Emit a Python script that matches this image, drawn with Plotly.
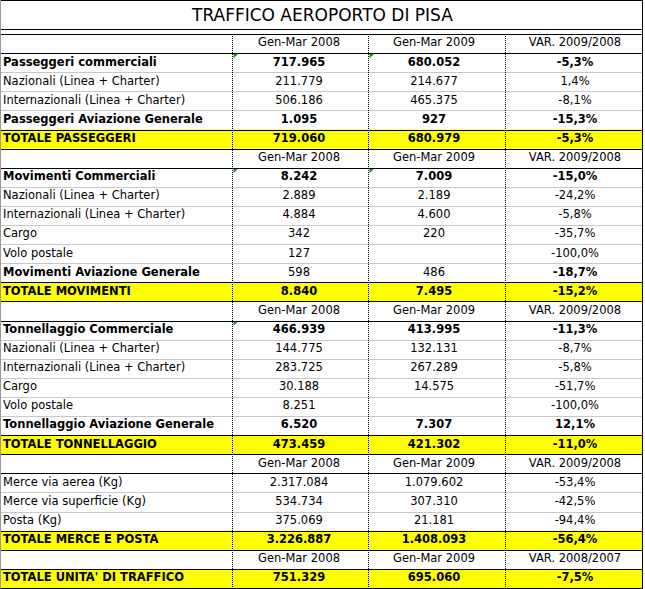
import plotly.graph_objects as go

title = "TRAFFICO AEROPORTO DI PISA"

labels = [
    "", "Passeggeri commerciali", "Nazionali (Linea + Charter)", "Internazionali (Linea + Charter)",
    "Passeggeri Aviazione Generale", "TOTALE PASSEGGERI",
    "", "Movimenti Commerciali", "Nazionali (Linea + Charter)", "Internazionali (Linea + Charter)",
    "Cargo", "Volo postale", "Movimenti Aviazione Generale", "TOTALE MOVIMENTI",
    "", "Tonnellaggio Commerciale", "Nazionali (Linea + Charter)", "Internazionali (Linea + Charter)",
    "Cargo", "Volo postale", "Tonnellaggio Aviazione Generale", "TOTALE TONNELLAGGIO",
    "", "Merce via aerea (Kg)", "Merce via superficie (Kg)", "Posta (Kg)", "TOTALE MERCE E POSTA",
    "", "TOTALE UNITA' DI TRAFFICO",
]
col_2008 = [
    "Gen-Mar 2008", "717.965", "211.779", "506.186", "1.095", "719.060",
    "Gen-Mar 2008", "8.242", "2.889", "4.884", "342", "127", "598", "8.840",
    "Gen-Mar 2008", "466.939", "144.775", "283.725", "30.188", "8.251", "6.520", "473.459",
    "Gen-Mar 2008", "2.317.084", "534.734", "375.069", "3.226.887",
    "Gen-Mar 2008", "751.329",
]
col_2009 = [
    "Gen-Mar 2009", "680.052", "214.677", "465.375", "927", "680.979",
    "Gen-Mar 2009", "7.009", "2.189", "4.600", "220", "", "486", "7.495",
    "Gen-Mar 2009", "413.995", "132.131", "267.289", "14.575", "", "7.307", "421.302",
    "Gen-Mar 2009", "1.079.602", "307.310", "21.181", "1.408.093",
    "Gen-Mar 2009", "695.060",
]
col_var = [
    "VAR. 2009/2008", "-5,3%", "1,4%", "-8,1%", "-15,3%", "-5,3%",
    "VAR. 2009/2008", "-15,0%", "-24,2%", "-5,8%", "-35,7%", "-100,0%", "-18,7%", "-15,2%",
    "VAR. 2009/2008", "-11,3%", "-8,7%", "-5,8%", "-51,7%", "-100,0%", "12,1%", "-11,0%",
    "VAR. 2009/2008", "-53,4%", "-42,5%", "-94,4%", "-56,4%",
    "VAR. 2008/2007", "-7,5%",
]
# row type: h = header, b = bold, n = normal, t = yellow total
row_kind = "hbnnbt" + "hbnnnnbt" + "hbnnnnbt" + "hnnnt" + "ht"
# bold flags per cell (label, 2008, 2009, var)
bold_cells = [
    "0000", "1111", "0000", "0000", "1111", "1111",
    "0000", "1111", "0000", "0000", "0000", "0000", "1001", "1111",
    "0000", "1111", "0000", "0000", "0000", "0000", "1111", "1111",
    "0000", "0000", "0000", "0000", "1111",
    "0000", "1111",
]
# cells with the green Excel marker in the corner
flagged = [(1, 1), (1, 2), (7, 1), (7, 2), (15, 1)]

W, H = 645, 589
TOP = 34
ROW_H = (588 - TOP) / len(labels)
EDGES = [0.5, 232.5, 368.5, 505.5, 642.5]
CENTERS = [3, 299, 434, 575]
FONT = "DejaVu Sans"

row_mid = [TOP + ROW_H * (i + 0.5) for i in range(len(labels))]
row_top = [TOP + ROW_H * i for i in range(len(labels) + 1)]

fig = go.Figure()

shapes = []
# yellow total rows
for i, k in enumerate(row_kind):
    if k == "t":
        shapes.append(dict(type="rect", x0=EDGES[0], x1=EDGES[4], y0=row_top[i], y1=row_top[i + 1],
                           fillcolor="#ffff00", line_width=0, layer="below"))

# horizontal rules
for i in range(1, len(labels)):
    dark = row_kind[i - 1] in "ht" or row_kind[i] == "t"
    y = round(row_top[i]) + 0.5
    shapes.append(dict(type="line", x0=EDGES[0], x1=EDGES[4], y0=y, y1=y,
                       line=dict(color="#000000" if dark else "#c8c8c8", width=1)))

# vertical dotted separators
for x in EDGES[1:4]:
    shapes.append(dict(type="line", x0=x, x1=x, y0=TOP, y1=588,
                       line=dict(color="#000000", width=1, dash="1px,1px")))

# title box and outer border
for y in [0.5, 29.5, 34.5, 588.5]:
    shapes.append(dict(type="line", x0=EDGES[0], x1=EDGES[4], y0=y, y1=y,
                       line=dict(color="#000000", width=1)))
shapes.append(dict(type="line", x0=EDGES[0], x1=EDGES[0], y0=0, y1=588.5,
                   line=dict(color="#9a9a9a", width=1)))
shapes.append(dict(type="line", x0=EDGES[4], x1=EDGES[4], y0=0, y1=588.5,
                   line=dict(color="#000000", width=1)))

columns = [labels, col_2008, col_2009, col_var]
for c, values in enumerate(columns):
    texts = []
    for r, v in enumerate(values):
        texts.append("<b>%s</b>" % v if bold_cells[r][c] == "1" and v else v)
    fig.add_trace(go.Scatter(
        x=[CENTERS[c]] * len(values),
        y=row_mid,
        mode="text",
        text=texts,
        textposition="middle right" if c == 0 else "middle center",
        textfont=dict(family=FONT, size=11.5, color="#000000"),
        hoverinfo="skip",
        showlegend=False,
    ))

# little green triangles
fig.add_trace(go.Scatter(
    x=[EDGES[c] + 2.5 for r, c in flagged],
    y=[row_top[r] + 2.5 for r, c in flagged],
    mode="markers",
    marker=dict(symbol="triangle-nw", size=5, color="#2e8b2e", line_width=0),
    hoverinfo="skip",
    showlegend=False,
))

fig.add_annotation(x=(EDGES[0] + EDGES[4]) / 2, y=15, text=title, showarrow=False,
                   font=dict(family=FONT, size=17, color="#000000"), xanchor="center", yanchor="middle")

fig.update_layout(
    width=W, height=H,
    margin=dict(l=0, r=0, t=0, b=0),
    paper_bgcolor="white", plot_bgcolor="white",
    shapes=shapes,
    xaxis=dict(range=[0, W], visible=False, fixedrange=True),
    yaxis=dict(range=[H, 0], visible=False, fixedrange=True),
)

fig.write_html("out.html", config={"displayModeBar": False},
               post_script="document.body.style.margin='0';document.body.style.overflow='hidden';")
